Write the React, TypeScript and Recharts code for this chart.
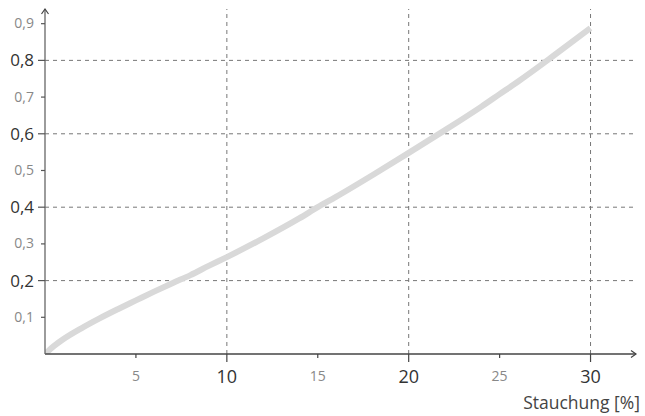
import React from 'react';
import { LineChart, Line, XAxis, YAxis, ReferenceLine } from 'recharts';

// Stauchung [%] vs. value
const strain = [0, 0.5, 1, 2, 3, 4, 5, 6, 7, 8, 9, 10, 12, 14, 15, 16, 18, 20, 22, 24, 25, 26, 28, 30];
const stress = [0, 0.022, 0.04, 0.07, 0.097, 0.122, 0.146, 0.17, 0.193, 0.215, 0.24, 0.264, 0.315, 0.37, 0.4, 0.428, 0.487, 0.548, 0.61, 0.674, 0.708, 0.742, 0.814, 0.888];

const xTicks = [5, 10, 15, 20, 25, 30];
const yTicks = [0.1, 0.2, 0.3, 0.4, 0.5, 0.6, 0.7, 0.8, 0.9];
const xGrid = [10, 20, 30];
const yGrid = [0.2, 0.4, 0.6, 0.8];
const xLabel = 'Stauchung [%]';

const data = strain.map((s, i) => ({ s, v: stress[i] }));

const FONT = '"Open Sans", "DejaVu Sans", sans-serif';

const YTick = (props: any) => {
  const { x, y, payload } = props;
  const major = Math.round(payload.value * 10) % 2 === 0;
  const label = payload.value.toFixed(1).replace('.', ',');
  return (
    <g>
      <line x1={x - (major ? 7 : 4)} y1={y} x2={x} y2={y} stroke="#555" strokeWidth={1.2} />
      <text
        x={x - 11}
        y={y + (major ? 6 : 4.5)}
        textAnchor="end"
        fontFamily={FONT}
        fontSize={major ? 17 : 14}
        fill={major ? '#333' : '#888'}
      >
        {label}
      </text>
    </g>
  );
};

const XTick = (props: any) => {
  const { x, y, payload } = props;
  const major = payload.value % 10 === 0;
  return (
    <g>
      <line x1={x} y1={y} x2={x} y2={y + (major ? 8 : 4)} stroke="#444" strokeWidth={1.2} />
      <text
        x={x}
        y={y + (major ? 29 : 27)}
        textAnchor="middle"
        fontFamily={FONT}
        fontSize={major ? 18 : 14}
        fill={major ? '#333' : '#888'}
      >
        {payload.value}
      </text>
    </g>
  );
};

const AxisTitle = (props: any) => {
  const { viewBox } = props;
  return (
    <text
      x={viewBox.x + viewBox.width + 4}
      y={viewBox.y + viewBox.height - 7}
      textAnchor="end"
      fontFamily={FONT}
      fontSize={17.5}
      fill="#444"
    >
      {xLabel}
    </text>
  );
};

export default function App() {
  return (
    <div style={{ position: 'absolute', left: 0, top: 0, width: 645, height: 416, background: '#fff' }}>
      <svg width={0} height={0} style={{ position: 'absolute' }}>
        <defs>
          <marker
            id="axisArrow"
            markerUnits="userSpaceOnUse"
            viewBox="0 0 8 10"
            refX={6}
            refY={5}
            markerWidth={8}
            markerHeight={10}
            orient="auto-start-reverse"
          >
            <path d="M1,1.5 L6,5 L1,8.5" fill="none" stroke="#444" strokeWidth={1.2} />
          </marker>
        </defs>
      </svg>
      <LineChart width={645} height={416} data={data} margin={{ top: 9, right: 9, left: 0, bottom: 0 }}>
        {yGrid.map((g) => (
          <ReferenceLine key={'y' + g} y={g} stroke="#777" strokeDasharray="4 4" strokeWidth={1} />
        ))}
        {xGrid.map((g) => (
          <ReferenceLine key={'x' + g} x={g} stroke="#777" strokeDasharray="4 4" strokeWidth={1} />
        ))}
        <XAxis
          dataKey="s"
          type="number"
          domain={[0, 32.5]}
          ticks={xTicks}
          height={62}
          tickLine={false}
          tickSize={0}
          tickMargin={0}
          tick={<XTick />}
          axisLine={{ stroke: '#444', strokeWidth: 1.3, markerEnd: 'url(#axisArrow)' }}
          label={<AxisTitle />}
          allowDataOverflow
        />
        <YAxis
          type="number"
          domain={[0, 0.94]}
          ticks={yTicks}
          width={45}
          tickLine={false}
          tickSize={0}
          tickMargin={0}
          tick={<YTick />}
          axisLine={{ stroke: '#666', strokeWidth: 1.3, markerStart: 'url(#axisArrow)' }}
          allowDataOverflow
        />
        <Line
          type="monotone"
          dataKey="v"
          stroke="#d9d9d9"
          strokeWidth={6}
          dot={false}
          activeDot={false}
          isAnimationActive={false}
        />
      </LineChart>
    </div>
  );
}
